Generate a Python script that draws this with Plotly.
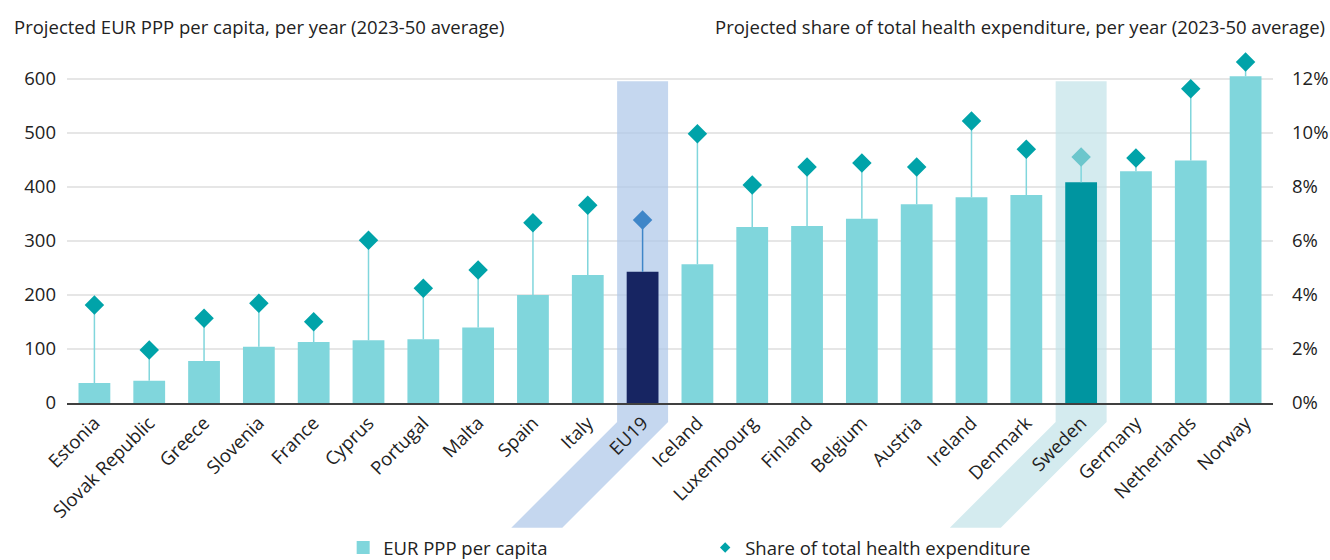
import plotly.graph_objects as go

# Data
countries = ["Estonia", "Slovak Republic", "Greece", "Slovenia", "France", "Cyprus",
             "Portugal", "Malta", "Spain", "Italy", "EU19", "Iceland", "Luxembourg",
             "Finland", "Belgium", "Austria", "Ireland", "Denmark", "Sweden",
             "Germany", "Netherlands", "Norway"]
eur_ppp = [37, 41, 78, 104, 113, 116, 118, 140, 200, 237, 243, 257, 326, 328,
           341, 368, 381, 385, 409, 429, 449, 605]
share_pct = [3.63, 1.96, 3.14, 3.69, 3.01, 6.03, 4.25, 4.93, 6.68, 7.32, 6.78, 9.97,
             8.07, 8.74, 8.89, 8.74, 10.44, 9.40, 9.11, 9.07, 11.64, 12.63]
y_ticks = [0, 100, 200, 300, 400, 500, 600]
y2_ticks = [0, 2, 4, 6, 8, 10, 12]
highlights = {"EU19": "rgba(172,198,232,0.7)", "Sweden": "rgba(194,226,232,0.7)"}

# left axis 0-650 matches right axis 0-13 %
Y_MAX = 650
Y2_MAX = 13
scale = Y_MAX / Y2_MAX

bar_colors = []
dia_colors = []
stem_colors = []
for c in countries:
    if c == "EU19":
        bar_colors.append("#172562")
        dia_colors.append("#3f86c8")
        stem_colors.append("#3f86c8")
    elif c == "Sweden":
        bar_colors.append("#0095a0")
        dia_colors.append("#6cc6cc")
        stem_colors.append("#80d6dc")
    else:
        bar_colors.append("#80d6dc")
        dia_colors.append("#00a3a9")
        stem_colors.append("#80d6dc")

fig = go.Figure()

# stems from bar top to diamond
for c, v, p, col in zip(countries, eur_ppp, share_pct, stem_colors):
    fig.add_trace(go.Scatter(
        x=[c, c], y=[v, p * scale], mode="lines",
        line=dict(color=col, width=1.5), hoverinfo="none", showlegend=False))

fig.add_trace(go.Bar(
    x=countries, y=eur_ppp, marker=dict(color=bar_colors, line=dict(width=0)),
    width=0.58, name="EUR PPP per capita", showlegend=False))

fig.add_trace(go.Scatter(
    x=countries, y=share_pct, yaxis="y2", mode="markers",
    marker=dict(symbol="diamond", size=15, color=dia_colors),
    name="Share of total health expenditure", showlegend=False))

# legend entries
fig.add_trace(go.Scatter(
    x=[None], y=[None], mode="markers",
    marker=dict(symbol="square", size=13, color="#80d6dc"),
    name="EUR PPP per capita"))
fig.add_trace(go.Scatter(
    x=[None], y=[None], mode="markers",
    marker=dict(symbol="diamond", size=8, color="#00a3a9"),
    name="Share of total health expenditure"))

# highlight bands: column inside the plot + slanted tail under the label
n = len(countries)
half = 0.465
for c, fill in highlights.items():
    i = countries.index(c)
    fig.add_shape(type="rect", xref="x", yref="y", x0=i - half, x1=i + half,
                  y0=0, y1=596, fillcolor=fill, line=dict(width=0), layer="between")
    xl = (i - half + 0.5) / n
    xr = (i + half + 0.5) / n
    shift = 1.93 / n
    yk = -35 / Y_MAX
    yb = -231 / Y_MAX
    path = (f"M {xl} 0 L {xr} 0 L {xr} {yk} L {xr - shift} {yb} "
            f"L {xl - shift} {yb} L {xl} {yk} Z")
    fig.add_shape(type="path", xref="paper", yref="paper", path=path,
                  fillcolor=fill, line=dict(width=0), layer="below")

font = dict(family="Open Sans", size=18.5, color="#222222")

fig.add_annotation(text="Projected EUR PPP per capita, per year (2023-50 average)",
                   xref="paper", yref="paper", x=-55 / 1206, y=1 + 25 / 351,
                   xanchor="left", yanchor="middle", showarrow=False, font=font)
fig.add_annotation(text="Projected share of total health expenditure, per year (2023-50 average)",
                   xref="paper", yref="paper", x=1 + 54 / 1206, y=1 + 25 / 351,
                   xanchor="right", yanchor="middle", showarrow=False, font=font)

fig.update_layout(
    width=1330, height=560,
    margin=dict(l=67, r=57, t=52, b=157, autoexpand=False),
    plot_bgcolor="white", paper_bgcolor="white",
    font=font,
    xaxis=dict(type="category", tickangle=-45, showline=True, linecolor="#404040",
               linewidth=2, showgrid=False, ticks="", range=[-0.5, n - 0.5],
               automargin=False),
    yaxis=dict(range=[0, Y_MAX], tickvals=y_ticks,
               showgrid=True, gridcolor="#e6e6e6", gridwidth=1.5, zeroline=False,
               ticklabelstandoff=10, automargin=False),
    yaxis2=dict(range=[0, Y2_MAX], tickvals=y2_ticks,
                ticktext=[f"{t}%" for t in y2_ticks],
                overlaying="y", side="right", showgrid=False, zeroline=False,
                ticklabelstandoff=18, automargin=False),
    showlegend=True,
    legend=dict(orientation="h", x=0.229, y=-0.359, xanchor="left", yanchor="top",
                entrywidth=317, itemclick=False),
)

# drop the default page margin so the figure fills the window exactly
fig.write_html("out.html", config={"displayModeBar": False},
               post_script="document.body.style.margin='0';document.body.style.overflow='hidden';")
